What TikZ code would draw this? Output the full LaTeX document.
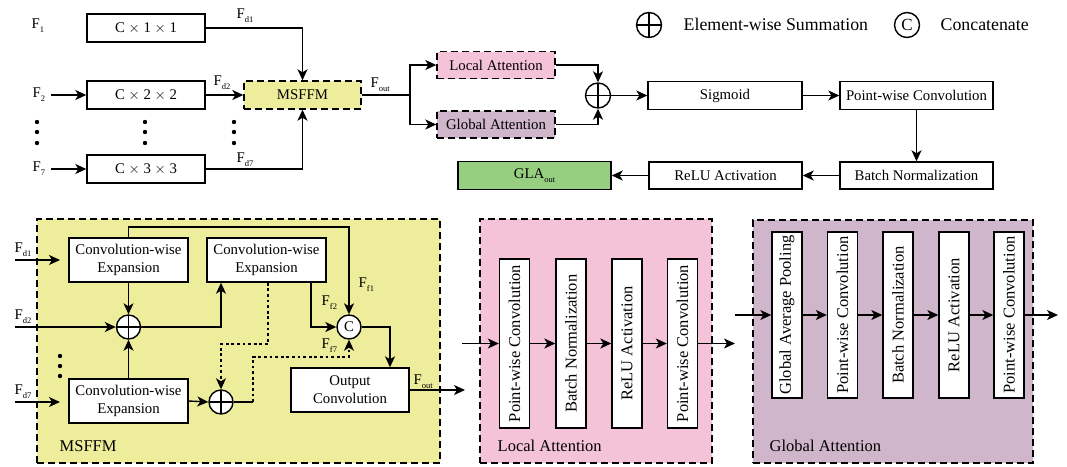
\documentclass[tikz,border=0pt]{standalone}
\usepackage{fontspec}
\setmainfont{Liberation Serif}
\usetikzlibrary{arrows.meta}

\definecolor{msyellow}{HTML}{EDED9B}
\definecolor{lapink}{HTML}{F5C3D8}
\definecolor{gamauve}{HTML}{D0B6CA}
\definecolor{glagreen}{HTML}{97CF80}

% lowered small subscript used for the feature names
\newcommand\lowsub[1]{\raisebox{-4pt}{\fontsize{8.5}{9}\selectfont #1}}
\newcommand\Fs[1]{F\lowsub{#1}}

\begin{document}
\begin{tikzpicture}[x=1pt,y=-1pt,line width=1.4pt,
  font=\fontsize{14.8}{18}\selectfont,
  box/.style={draw,fill=white,inner sep=1pt,align=center},
  dbox/.style={draw,dash pattern=on 7pt off 4pt,inner sep=1pt},
  vbox/.style={draw,fill=white,inner sep=0pt,minimum width=30pt},
  arr/.style={-{Stealth[length=11pt,width=10pt,inset=3pt]}},
  dotline/.style={dash pattern=on 2.8pt off 2.8pt},
  lbl/.style={anchor=base west,inner sep=0pt},
  biglbl/.style={anchor=base west,inner sep=0pt,font=\fontsize{16.5}{18}\selectfont},
  sumnode/.style={circle,draw,fill=white,minimum size=#1,inner sep=0pt,
    path picture={\draw (path picture bounding box.north) -- (path picture bounding box.south)
      (path picture bounding box.west) -- (path picture bounding box.east);}},
  catnode/.style={circle,draw,fill=white,minimum size=#1,inner sep=0pt}
]
\useasboundingbox (0,0) rectangle (1067,466);

% ---------------- legend ----------------
\node[sumnode=25pt] (legsum) at (649,25) {};
\node[lbl,font=\fontsize{17.8}{20}\selectfont] (legsumtxt) at (683,30) {Element-wise Summation};
\node[catnode=25pt,font=\fontsize{17}{20}\selectfont] (legcat) at (907,25) {C};
\node[lbl,font=\fontsize{17.8}{20}\selectfont] (legcattxt) at (940,30) {Concatenate};

% ---------------- top: overall flow ----------------
\node[box,minimum width=118pt,minimum height=28pt] (c1) at (146,28) {C $\times$ 1 $\times$ 1};
\node[box,minimum width=118pt,minimum height=28pt] (c2) at (146,95) {C $\times$ 2 $\times$ 2};
\node[box,minimum width=118pt,minimum height=28pt] (c3) at (146,169) {C $\times$ 3 $\times$ 3};
\node[dbox,fill=msyellow,minimum width=117pt,minimum height=28pt] (msffm) at (302.5,95) {MSFFM};

\node[lbl] (f1) at (31,28) {\Fs{1}};
\node[lbl] (f2) at (32,97) {\Fs{2}};
\node[lbl] (f7) at (32,171) {\Fs{7}};
\coordinate (f2in) at (51,95);
\coordinate (f7in) at (51,169);
\draw[arr] (f2in) -- (c2.west);
\draw[arr] (f7in) -- (c3.west);

\foreach \x in {37,145,234} {
  \foreach \y in {122,132,143} { \fill (\x,\y) circle (2.2pt); }
}

\draw[arr] (c1.east) -| (msffm.north);
\draw[arr] (c2.east) -- (msffm.west);
\draw[arr] (c3.east) -| (msffm.south);
\node[lbl] (fd1) at (236,18) {\Fs{d1}};
\node[lbl] (fd2) at (213,85) {\Fs{d2}};
\node[lbl] (fd7) at (236,162) {\Fs{d7}};
\node[lbl] (fout) at (370,87) {\Fs{out}};

\node[dbox,fill=lapink,minimum width=118pt,minimum height=27pt] (la) at (496,65) {Local Attention};
\node[dbox,fill=gamauve,minimum width=118pt,minimum height=27pt] (ga) at (496,124.5) {Global Attention};
\coordinate (split) at (410,95);
\draw (msffm.east) -- (split);
\draw[arr] (split) |- (la.west);
\draw[arr] (split) |- (ga.west);

\node[sumnode=25pt] (sum) at (598,95.5) {};
\draw[arr] (la.east) -| (sum.north);
\draw[arr] (ga.east) -| (sum.south);

\node[box,minimum width=154pt,minimum height=28pt] (sig) at (725,95.5) {Sigmoid};
\node[box,minimum width=153pt,minimum height=28pt] (pwc) at (916.5,95.5) {Point-wise Convolution};
\node[box,minimum width=153pt,minimum height=27pt] (bn) at (916.5,175.5) {Batch Normalization};
\node[box,minimum width=153pt,minimum height=27pt] (relu) at (725.5,175.5) {ReLU Activation};
\node[box,fill=glagreen,minimum width=153pt,minimum height=28pt] (gla) at (534.5,175.5) {GLA\lowsub{out}};

\draw[arr] (sum.east) -- (sig.west);
\draw[arr] (sig.east) -- (pwc.west);
\draw[arr] (pwc.south) -- (bn.north);
\draw[arr] (bn.west) -- (relu.east);
\draw[arr] (relu.west) -- (gla.east);

% ---------------- bottom left: MSFFM detail ----------------
\node[dbox,fill=msyellow,minimum width=403pt,minimum height=244pt] (msbg) at (238.5,341) {};
\node[biglbl] (mslbl) at (59,451) {MSFFM};

\node[box,minimum width=119pt,minimum height=44pt] (cwe1) at (128.5,260) {Convolution-wise\\Expansion};
\node[box,minimum width=119pt,minimum height=44pt] (cwe2) at (266.5,260) {Convolution-wise\\Expansion};
\node[box,minimum width=119pt,minimum height=44pt] (cwe3) at (128.5,401) {Convolution-wise\\Expansion};
\node[box,minimum width=118pt,minimum height=44pt] (oc) at (350,390) {Output\\Convolution};
\node[sumnode=24pt] (p1) at (128.5,327) {};
\node[sumnode=24pt] (p2) at (221,402) {};
\node[catnode=24pt] (cc) at (349,327) {C};

\coordinate (d1in) at (15,260);
\coordinate (d1end) at (60,260);
\coordinate (d2in) at (15,327);
\coordinate (d7in) at (15,402);
\coordinate (d7end) at (60,402);
\draw[arr] (d1in) -- (d1end);
\draw[arr] (d2in) -- (p1.west);
\draw[arr] (d7in) -- (d7end);
\node[lbl] (bfd1) at (14,252) {\Fs{d1}};
\node[lbl] (bfd2) at (14,319) {\Fs{d2}};
\node[lbl] (bfd7) at (14,394) {\Fs{d7}};
\foreach \y in {356,366,376} { \fill (60,\y) circle (2.2pt); }

% taps on the lower edge of the second expansion block
\coordinate (tapA) at ([xshift=-45.5pt]cwe2.south);
\coordinate (tapB) at ([xshift=1.5pt]cwe2.south);
\coordinate (tapC) at ([xshift=44.5pt]cwe2.south);
\coordinate (ocin) at ([xshift=40pt]oc.north);
\coordinate (topbend) at (349,227);
\coordinate (dotbend) at (221,344);
\coordinate (p2knee) at (253,402);
\coordinate (f7bend) at (349,357);

\draw[arr] (cwe1.south) -- (p1.north);
\draw[arr] (cwe3.north) -- (p1.south);
\draw[arr] (p1.east) -| (tapA);
\draw[arr] (cwe1.north) |- (topbend) -- (cc.north);
\draw[arr] (tapC) |- (cc.west);
\draw[arr] (cwe3.east) -- (p2.west);
\draw[arr,dotline] (tapB) |- (dotbend) -- (p2.north);
\draw (p2.east) -- (p2knee);
\draw[arr,dotline] (p2knee) |- (f7bend) -- (cc.south);
\draw[arr] (cc.east) -| (ocin);
\coordinate (ocout) at (465,390);
\draw[arr] (oc.east) -- (ocout);

\node[lbl] (ff1) at (358,287) {\Fs{f1}};
\node[lbl] (ff2) at (321,305) {\Fs{f2}};
\node[lbl] (ff7) at (321,348) {\Fs{f7}};
\node[lbl] (bfout) at (413,384) {\Fs{out}};

% ---------------- bottom middle: local attention ----------------
\node[dbox,fill=lapink,minimum width=232pt,minimum height=244pt] (labg) at (596,341) {};
\node[biglbl] (lalbl) at (497,451) {Local Attention};
\node[vbox,minimum height=169pt] (l1) at (514.5,343.5) {\rotatebox{90}{\fontsize{16.5}{18}\selectfont Point-wise Convolution}};
\node[vbox,minimum height=169pt] (l2) at (571,343.5) {\rotatebox{90}{\fontsize{16.5}{18}\selectfont Batch Normalization}};
\node[vbox,minimum height=169pt] (l3) at (627,343.5) {\rotatebox{90}{\fontsize{16.5}{18}\selectfont ReLU Activation}};
\node[vbox,minimum height=169pt] (l4) at (682.5,343.5) {\rotatebox{90}{\fontsize{16.5}{18}\selectfont Point-wise Convolution}};
\coordinate (lin) at (462,343.5);
\coordinate (lout) at (735,343.5);
\draw[arr] (lin) -- (l1.west);
\draw[arr] (l1.east) -- (l2.west);
\draw[arr] (l2.east) -- (l3.west);
\draw[arr] (l3.east) -- (l4.west);
\draw[arr] (l4.east) -- (lout);

% ---------------- bottom right: global attention ----------------
\node[dbox,fill=gamauve,minimum width=280pt,minimum height=243pt] (gabg) at (893,341.5) {};
\node[biglbl] (galbl) at (769,451) {Global Attention};
\node[vbox,minimum height=166pt] (g1) at (787,315) {\rotatebox{90}{\fontsize{16.5}{18}\selectfont Global Average Pooling}};
\node[vbox,minimum height=166pt] (g2) at (842.5,315) {\rotatebox{90}{\fontsize{16.5}{18}\selectfont Point-wise Convolution}};
\node[vbox,minimum height=166pt] (g3) at (898,315) {\rotatebox{90}{\fontsize{16.5}{18}\selectfont Batch Normalization}};
\node[vbox,minimum height=166pt] (g4) at (954,315) {\rotatebox{90}{\fontsize{16.5}{18}\selectfont ReLU Activation}};
\node[vbox,minimum height=166pt] (g5) at (1009,315) {\rotatebox{90}{\fontsize{16.5}{18}\selectfont Point-wise Convolution}};
\coordinate (gin) at (735,315);
\coordinate (gout) at (1058,315);
\draw[arr] (gin) -- (g1.west);
\draw[arr] (g1.east) -- (g2.west);
\draw[arr] (g2.east) -- (g3.west);
\draw[arr] (g3.east) -- (g4.west);
\draw[arr] (g4.east) -- (g5.west);
\draw[arr] (g5.east) -- (gout);
\end{tikzpicture}
\end{document}
